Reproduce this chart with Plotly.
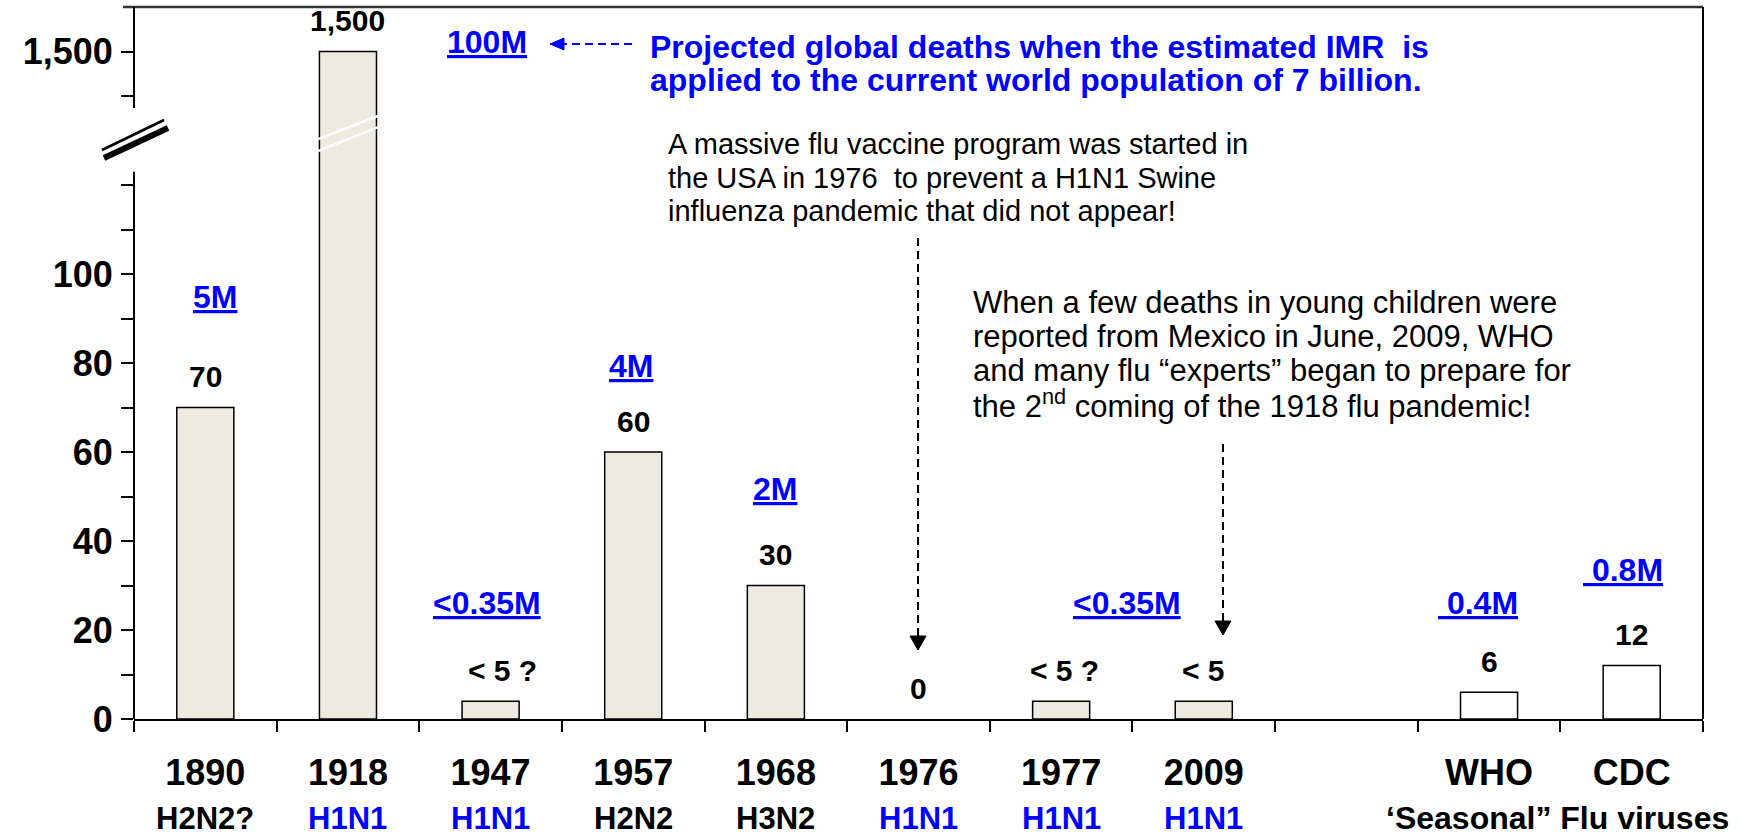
import plotly.graph_objects as go

# ---------------- data ----------------
categories = ["1890", "1918", "1947", "1957", "1968", "1976", "1977", "2009", " ", "WHO", "CDC"]
deaths_per_100k = [70, 1500, 4, 60, 30, 0, 4, 4, None, 6, 12]
bar_labels = ["70", "1,500", "< 5 ?", "60", "30", "0", "< 5 ?", "< 5", "", "6", "12"]
is_seasonal = [False, False, False, False, False, False, False, False, False, True, True]
subtypes = ["H2N2?", "H1N1", "H1N1", "H2N2", "H3N2", "H1N1", "H1N1", "H1N1", "", "", ""]
subtype_blue = [False, True, True, False, False, True, True, True, False, False, False]
global_death_labels = ["5M", "100M", "<0.35M", "4M", "2M", "<0.35M", "\u00a00.4M", "\u00a00.8M"]
y_tick_values = [0, 10, 20, 30, 40, 50, 60, 70, 80, 90, 100, 110, 120, 1400, 1500]
y_tick_labels = ["0", "", "20", "", "40", "", "60", "", "80", "", "100", "", "", "", "1,500"]

# broken-axis mapping: lower part linear, upper part compressed
BREAK_LOW = 123
UPPER_ANCHOR_VAL, UPPER_ANCHOR_POS, UPPER_UNITS_PER_POS = 1500, 150, 10
BREAK_HIGH_POS = 137.3


def to_axis(v):
    if v is None:
        return None
    if v <= BREAK_LOW:
        return v
    return UPPER_ANCHOR_POS - (UPPER_ANCHOR_VAL - v) / UPPER_UNITS_PER_POS


# ---------------- layout constants ----------------
W, H = 1741, 839
PL, PR, PT, PB = 134, 1703, 7, 719
BAR_W = 0.4
FONT = "Liberation Sans, Arial, sans-serif"
BLUE = "#0000FF"
BEIGE = "#EDEBE0"
LABEL_XSHIFT = {2: 12, 6: 3}


def px(xp):
    return (xp - PL) / (PR - PL)


def py(yp):
    return (PB - yp) / (PB - PT)


fig = go.Figure()

fig.add_trace(go.Bar(
    x=categories,
    y=[to_axis(v) for v in deaths_per_100k],
    customdata=[v if v is not None else "" for v in deaths_per_100k],
    width=BAR_W,
    marker=dict(color=["white" if s else BEIGE for s in is_seasonal],
                line=dict(color="black",
                          width=[0 if (v is None or v == 0) else 1.5 for v in deaths_per_100k])),
    hovertemplate="%{x}: %{customdata}<extra></extra>",
))

annotations = []

# value labels above bars
for i, (v, lab) in enumerate(zip(deaths_per_100k, bar_labels)):
    if not lab:
        continue
    annotations.append(dict(x=i, y=to_axis(v), xref="x", yref="y", text=lab, showarrow=False,
                            xanchor="center", yanchor="middle", yshift=31, xshift=LABEL_XSHIFT.get(i, 0),
                            font=dict(family=FONT, size=30, color="black", weight="bold")))

# virus subtype labels under the years
for i, (s, b) in enumerate(zip(subtypes, subtype_blue)):
    if not s:
        continue
    annotations.append(dict(x=i, y=py(838), xref="x", yref="paper", text=s, showarrow=False,
                            xanchor="center", yanchor="bottom",
                            font=dict(family=FONT, size=31, color=BLUE if b else "black", weight="bold")))
annotations.append(dict(x=px(1557), y=py(838), xref="paper", yref="paper",
                        text="\u2018Seasonal\u201d Flu viruses", showarrow=False,
                        xanchor="center", yanchor="bottom",
                        font=dict(family=FONT, size=32, color="black", weight="bold")))

# blue projected global-death labels (text box centres, pixels)
blue_pos = [(215, 297), (487, 42), (487, 603), (631, 366), (775, 489), (1127, 603), (1478, 603), (1623, 570)]
for lab, (xp, yp) in zip(global_death_labels, blue_pos):
    annotations.append(dict(x=px(xp), y=py(yp), xref="paper", yref="paper", text="<u>" + lab + "</u>",
                            showarrow=False, xanchor="center", yanchor="middle",
                            font=dict(family=FONT, size=32, color=BLUE, weight="bold")))

# blue explanatory text
blue_lines = ["Projected global deaths when the estimated IMR\u00a0 is",
              "applied to the current world population of 7 billion."]
for k, t in enumerate(blue_lines):
    annotations.append(dict(x=px(648), y=py(47 + 33 * k), xref="paper", yref="paper", text=t,
                            showarrow=False, xanchor="left", yanchor="middle",
                            font=dict(family=FONT, size=32, color=BLUE, weight="bold")))

note1 = ["A massive flu vaccine program was started in",
         "the USA in 1976\u00a0 to prevent a H1N1 Swine",
         "influenza pandemic that did not appear!"]
for k, t in enumerate(note1):
    annotations.append(dict(x=px(666), y=py(144 + 33.5 * k), xref="paper", yref="paper", text=t,
                            showarrow=False, xanchor="left", yanchor="middle",
                            font=dict(family=FONT, size=29, color="black")))

note2 = ["When a few deaths in young children were",
         "reported from Mexico in June, 2009, WHO",
         "and many flu \u201cexperts\u201d began to prepare for",
         "the 2<sup>nd</sup> coming of the 1918 flu pandemic!"]
for k, t in enumerate(note2):
    annotations.append(dict(x=px(971), y=py(302 + 34 * k), xref="paper", yref="paper", text=t,
                            showarrow=False, xanchor="left", yanchor="middle",
                            font=dict(family=FONT, size=31, color="black")))

shapes = []
# top frame line and right frame line
shapes.append(dict(type="line", xref="paper", yref="paper", x0=px(123), x1=1, y0=1, y1=1,
                   line=dict(color="#333333", width=2.5)))
shapes.append(dict(type="line", xref="paper", yref="paper", x0=1, x1=1, y0=0, y1=1,
                   line=dict(color="black", width=2)))
# broken y-axis line
shapes.append(dict(type="line", xref="paper", yref="y", x0=0, x1=0, y0=0, y1=BREAK_LOW,
                   line=dict(color="black", width=2)))
shapes.append(dict(type="line", xref="paper", yref="y", x0=0, x1=0, y0=BREAK_HIGH_POS, y1=160,
                   line=dict(color="black", width=2)))
# axis break symbol
shapes.append(dict(type="line", xref="paper", yref="paper", x0=px(102), y0=py(150), x1=px(164), y1=py(120),
                   line=dict(color="black", width=2.5)))
shapes.append(dict(type="line", xref="paper", yref="paper", x0=px(104), y0=py(158), x1=px(168), y1=py(128),
                   line=dict(color="black", width=6)))
# white break lines across the 1918 bar
i1918 = categories.index("1918")
for (ya, yb) in [(130.3, 135.5), (127.6, 133.0)]:
    shapes.append(dict(type="line", xref="x", yref="y", x0=i1918 - BAR_W / 2 - 0.01, x1=i1918 + BAR_W / 2 + 0.01,
                       y0=ya, y1=yb, line=dict(color="white", width=2.5)))


# dashed arrows
def dashed_arrow(x0p, y0p, x1p, y1p, tip, base1, base2, color):
    shapes.append(dict(type="line", xref="paper", yref="paper", x0=px(x0p), y0=py(y0p), x1=px(x1p), y1=py(y1p),
                       line=dict(color=color, width=2, dash="8px,5px")))
    path = "M {} {} L {} {} L {} {} Z".format(px(tip[0]), py(tip[1]), px(base1[0]), py(base1[1]),
                                              px(base2[0]), py(base2[1]))
    shapes.append(dict(type="path", xref="paper", yref="paper", path=path,
                       fillcolor=color, line=dict(color=color, width=1)))


dashed_arrow(918, 238, 918, 637, (918, 650), (910, 636), (926, 636), "black")
dashed_arrow(1223, 444, 1223, 622, (1223, 635), (1215, 621), (1231, 621), "black")
dashed_arrow(632, 44, 562, 44, (550, 44), (564, 38), (564, 50), BLUE)

fig.update_layout(
    width=W, height=H, autosize=False,
    margin=dict(l=PL, r=W - PR, t=PT, b=H - PB, pad=0),
    plot_bgcolor="white", paper_bgcolor="white",
    showlegend=False,
    annotations=annotations,
    shapes=shapes,
    xaxis=dict(type="category", categoryorder="array", categoryarray=categories,
               range=[-0.5, len(categories) - 0.5],
               tickson="boundaries", ticks="outside", ticklen=11, tickwidth=1.5, tickcolor="black",
               showline=True, linecolor="black", linewidth=2, showgrid=False, zeroline=False,
               ticklabelstandoff=21,
               tickfont=dict(family=FONT, size=36, color="black", weight="bold")),
    yaxis=dict(range=[0, 160], tickmode="array", tickvals=[to_axis(v) for v in y_tick_values],
               ticktext=y_tick_labels, ticks="outside", ticklen=12, tickwidth=1.5, tickcolor="black",
               showline=False, showgrid=False, zeroline=False, ticklabelstandoff=1,
               tickfont=dict(family=FONT, size=36, color="black", weight="bold")),
)

fig.write_html("out.html", config={"displayModeBar": False},
               post_script="document.body.style.margin='0';document.body.style.overflow='hidden';")
